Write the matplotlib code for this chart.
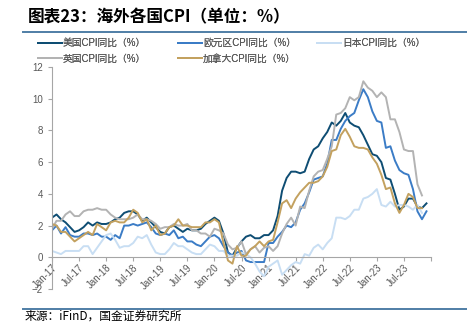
import matplotlib
matplotlib.use("Agg")
import matplotlib.pyplot as plt
import numpy as np

plt.rcParams['font.family'] = ['Liberation Sans', 'Noto Sans CJK SC']

# monthly YoY CPI, Jan-17 onwards
us = [2.5, 2.7, 2.4, 2.2, 1.9, 1.6, 1.7, 1.9, 2.2, 2.0, 2.2, 2.1,
      2.1, 2.2, 2.4, 2.5, 2.8, 2.9, 2.9, 2.7, 2.3, 2.5, 2.2, 1.9,
      1.6, 1.5, 1.9, 2.0, 1.8, 1.6, 1.8, 1.7, 1.7, 1.8, 2.1, 2.3,
      2.5, 2.3, 1.5, 0.3, 0.1, 0.6, 1.0, 1.3, 1.4, 1.2, 1.2, 1.4,
      1.4, 1.7, 2.6, 4.2, 5.0, 5.4, 5.4, 5.3, 5.4, 6.2, 6.8, 7.0,
      7.5, 7.9, 8.5, 8.3, 8.6, 9.1, 8.5, 8.3, 8.2, 7.7, 7.1, 6.5,
      6.4, 6.0, 5.0, 4.9, 4.0, 3.0, 3.2, 3.7, 3.7, 3.2, 3.1, 3.4]
euro = [1.7, 2.0, 1.5, 1.9, 1.4, 1.3, 1.3, 1.5, 1.5, 1.4, 1.5, 1.3,
        1.3, 1.1, 1.4, 1.2, 2.0, 2.0, 2.1, 2.0, 2.1, 2.2, 1.9, 1.5,
        1.4, 1.5, 1.4, 1.7, 1.2, 1.3, 1.0, 1.0, 0.8, 0.7, 1.0, 1.3,
        1.4, 1.2, 0.7, 0.3, 0.1, 0.3, 0.4, -0.2, -0.3, -0.3, -0.3, -0.3,
        0.9, 0.9, 1.3, 1.6, 2.0, 1.9, 2.2, 3.0, 3.4, 4.1, 4.9, 5.0,
        5.1, 5.9, 7.4, 7.4, 8.1, 8.6, 8.9, 9.1, 9.9, 10.6, 10.1, 9.2,
        8.6, 8.5, 6.9, 7.0, 6.1, 5.5, 5.3, 5.2, 4.3, 2.9, 2.4, 2.9]
japan = [0.4, 0.3, 0.2, 0.4, 0.4, 0.4, 0.4, 0.7, 0.7, 0.2, 0.6, 1.0,
         1.4, 1.5, 1.1, 0.6, 0.7, 0.7, 0.9, 1.3, 1.2, 1.4, 0.8, 0.3,
         0.2, 0.2, 0.5, 0.9, 0.7, 0.7, 0.5, 0.3, 0.2, 0.2, 0.5, 0.8,
         0.7, 0.4, 0.4, 0.1, 0.1, 0.1, 0.3, 0.2, 0.0, -0.4, -0.9, -1.2,
         -0.6, -0.4, -0.2, -1.1, -0.8, -0.5, -0.3, -0.4, 0.2, 0.1, 0.6, 0.8,
         0.5, 0.9, 1.2, 2.5, 2.5, 2.4, 2.6, 3.0, 3.0, 3.7, 3.8, 4.0,
         4.3, 3.3, 3.2, 3.5, 3.2, 3.3, 3.3, 3.2, 3.0, 3.3, 2.8]
uk = [1.8, 2.3, 2.3, 2.7, 2.9, 2.6, 2.6, 2.9, 3.0, 3.0, 3.1, 3.0,
      3.0, 2.7, 2.5, 2.4, 2.4, 2.4, 2.5, 2.7, 2.4, 2.4, 2.3, 2.1,
      1.8, 1.9, 1.9, 2.1, 2.0, 2.0, 2.1, 1.7, 1.7, 1.5, 1.5, 1.3,
      1.8, 1.7, 1.5, 0.8, 0.5, 0.6, 1.0, 0.2, 0.5, 0.7, 0.3, 0.6,
      0.7, 0.4, 0.7, 1.5, 2.1, 2.5, 2.0, 3.2, 3.1, 4.2, 5.1, 5.4,
      5.5, 6.2, 7.0, 9.0, 9.1, 9.4, 10.1, 9.9, 10.1, 11.1, 10.7, 10.5,
      10.1, 10.4, 10.1, 8.7, 8.7, 7.9, 6.8, 6.7, 6.7, 4.6, 3.9]
canada = [2.1, 2.0, 1.6, 1.6, 1.3, 1.0, 1.2, 1.4, 1.6, 1.4, 2.1, 1.9,
          1.7, 2.2, 2.3, 2.2, 2.2, 2.5, 3.0, 2.8, 2.2, 2.4, 1.7, 2.0,
          1.4, 1.5, 1.9, 2.0, 2.4, 2.0, 2.0, 1.9, 1.9, 1.9, 2.2, 2.2,
          2.4, 2.2, 0.9, -0.2, -0.4, 0.7, 0.1, 0.1, 0.5, 0.7, 1.0, 0.7,
          1.0, 1.1, 2.2, 3.4, 3.6, 3.1, 3.7, 4.1, 4.4, 4.7, 4.7, 4.8,
          5.1, 5.7, 6.7, 6.8, 7.7, 8.1, 7.6, 7.0, 6.9, 6.9, 6.8, 6.3,
          5.9, 5.2, 4.3, 4.4, 3.4, 2.8, 3.3, 4.0, 3.8, 3.1, 3.1]

tick_labels = ['Jan-17', 'Jul-17', 'Jan-18', 'Jul-18', 'Jan-19', 'Jul-19', 'Jan-20',
               'Jul-20', 'Jan-21', 'Jul-21', 'Jan-22', 'Jul-22', 'Jan-23', 'Jul-23', '']

series = [
    ('美国CPI同比（%）', us, '#0e4d73'),
    ('欧元区CPI同比（%）', euro, '#3b7cc6'),
    ('日本CPI同比（%）', japan, '#c8def3'),
    ('英国CPI同比（%）', uk, '#b3b3b3'),
    ('加拿大CPI同比（%）', canada, '#c3a15f'),
]

W, H = 467, 324
fig = plt.figure(figsize=(W / 100, H / 100), dpi=100)
ax = fig.add_axes([52 / W, 1 - 289 / H, (431 - 52) / W, (289 - 67) / H])

handles = {}
for name, vals, color in series:
    h, = ax.plot(np.arange(len(vals)), vals, color=color, lw=1.4, label=name)
    handles[name] = h

ax.set_xlim(0, 84)
ax.set_ylim(-2, 12)
ax.set_yticks(range(-2, 13, 2))
ax.set_xticks(range(0, 85, 6))
ax.set_xticklabels(tick_labels)

grey = '#a6a6a6'
for s in ['top', 'right']:
    ax.spines[s].set_visible(False)
ax.spines['bottom'].set_position(('data', 0))
ax.spines['bottom'].set_color(grey)
ax.spines['left'].set_color(grey)
ax.tick_params(axis='both', colors=grey, labelcolor='#595959', labelsize=7, length=3)
ax.tick_params(axis='x', pad=1, labelrotation=45)
for lab in ax.get_xticklabels():
    lab.set_ha('right')
    lab.set_rotation_mode('anchor')

# legend: three equal-width columns, filled row by row
columns = [(38, ['美国CPI同比（%）', '英国CPI同比（%）']),
           (178, ['欧元区CPI同比（%）', '加拿大CPI同比（%）']),
           (317, ['日本CPI同比（%）'])]
for x0, names in columns:
    leg = fig.legend([handles[n] for n in names], names, loc='upper left',
                     bbox_to_anchor=(x0 / W, 1 - 38 / H), frameon=False, fontsize=7,
                     labelcolor='#595959', handlelength=2.45, handletextpad=0.1,
                     labelspacing=0.6, borderpad=0, borderaxespad=0)
    fig.add_artist(leg)

fig.text(28 / W, 1 - 17 / H, '图表23：海外各国CPI（单位：%）', fontsize=12, fontweight='bold',
         va='center', ha='left', family=['Noto Sans CJK SC'], color='#000000')
fig.add_artist(plt.Line2D([23 / W, 1.0], [1 - 32 / H] * 2, color='#4f7ea6', lw=1.4))
fig.add_artist(plt.Line2D([23 / W, 1.0], [1 - 308.5 / H] * 2, color='#4f7ea6', lw=1.4))
fig.text(25 / W, 0.003, '来源：iFinD，国金证券研究所', fontsize=8.5, va='bottom', ha='left',
         family=['Noto Sans CJK SC'], color='#000000')

fig.savefig('out.png', dpi=100)
